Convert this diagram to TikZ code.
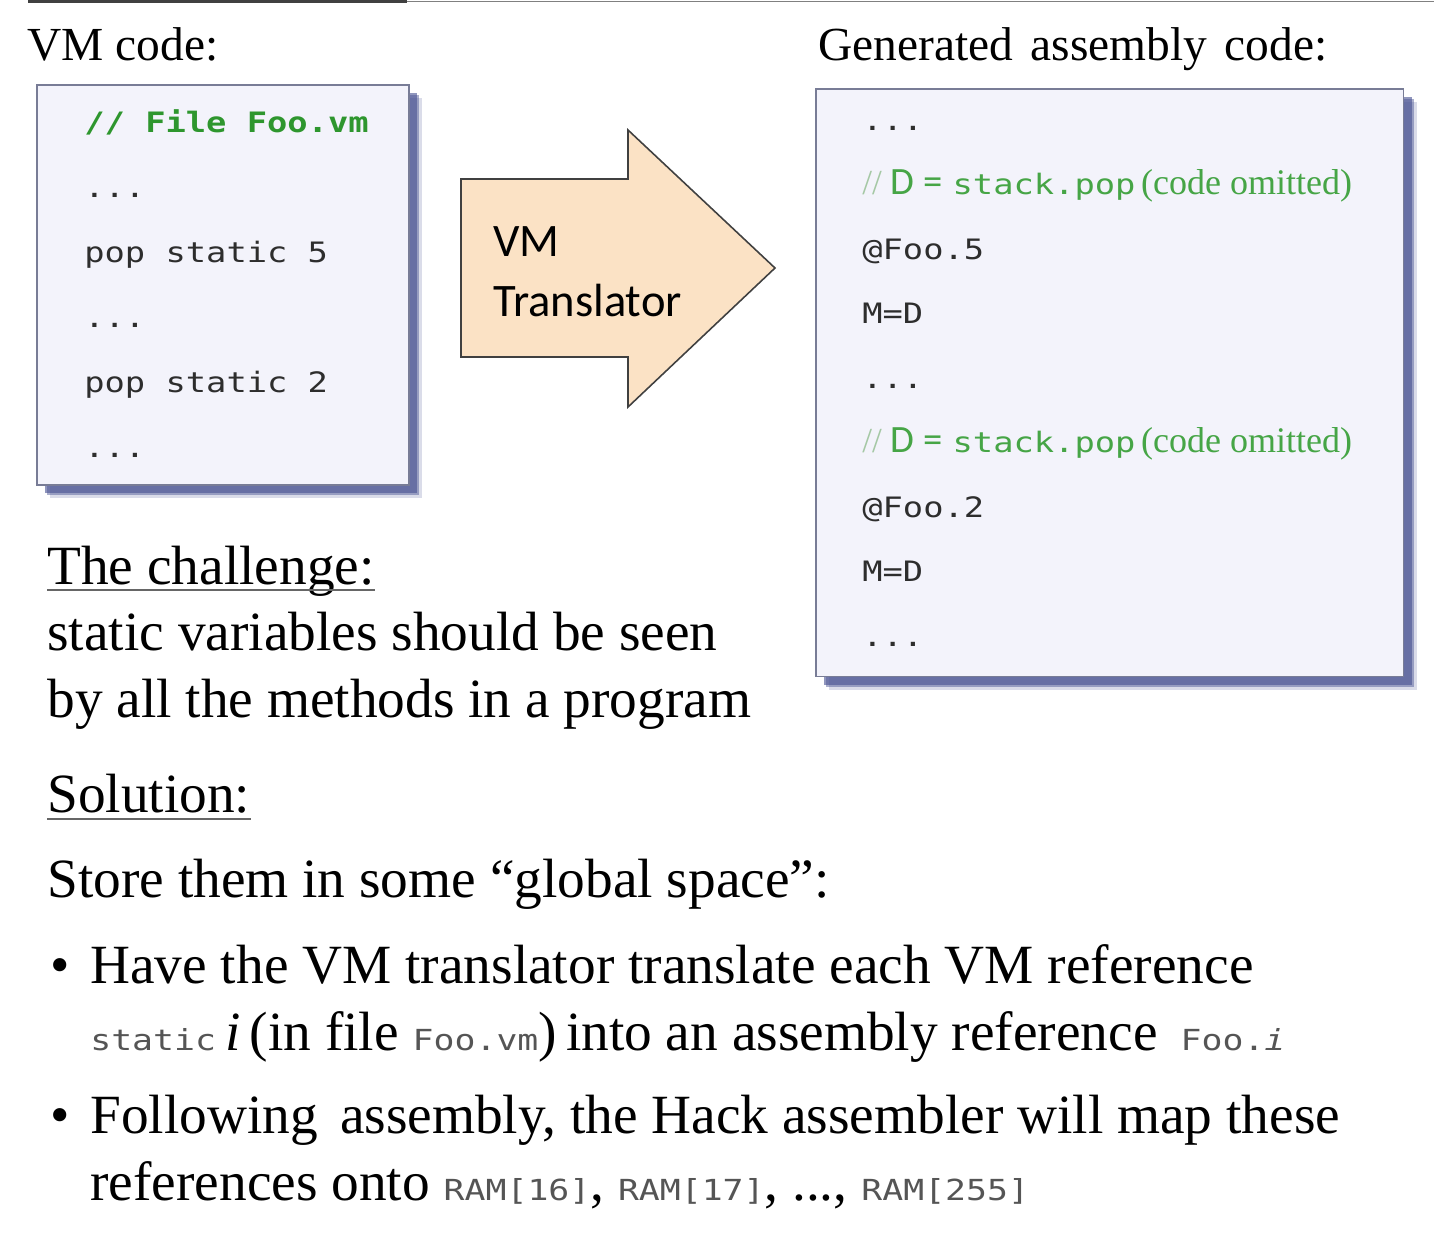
\documentclass[tikz,border=0pt]{standalone}
\usepackage{fontspec}
\setmainfont{Liberation Serif}
\setsansfont{Carlito}
\setmonofont[FakeStretch=1.2]{DejaVu Sans Mono}
\usetikzlibrary{shadows}

\definecolor{boxfill}{RGB}{243,243,251}
\definecolor{boxline}{RGB}{120,124,150}
\definecolor{boxshadow}{RGB}{70,80,145}
\definecolor{xlatefill}{RGB}{251,226,197}
\definecolor{vmgreen}{RGB}{46,150,46}
\definecolor{asmgreen}{RGB}{70,165,70}
\definecolor{slashgreen}{RGB}{165,200,165}
\definecolor{codegray}{RGB}{45,45,45}
\definecolor{refgray}{RGB}{85,85,85}

\newcommand{\codesize}{\fontsize{16}{19}\selectfont}
\newcommand{\bodysize}{\fontsize{31.5}{36}\selectfont}
\newcommand{\refcode}[1]{{\fontsize{16.5}{19}\selectfont\ttfamily\color{refgray}#1}}

\begin{document}
\begin{tikzpicture}[x=0.02cm, y=-0.02cm,
  codebox/.style={rectangle, draw=boxline, fill=boxfill, line width=0.9pt, anchor=north west,
    drop shadow={shadow xshift=0.26cm, shadow yshift=-0.26cm, fill=boxshadow, opacity=0.2},
    drop shadow={shadow xshift=0.21cm, shadow yshift=-0.21cm, fill=boxshadow, opacity=0.45},
    drop shadow={shadow xshift=0.16cm, shadow yshift=-0.16cm, fill=boxshadow, opacity=0.6}},
  code/.style={anchor=base west, inner sep=0, font=\codesize\ttfamily, text=codegray},
  cmt/.style={code, text=asmgreen},
  head/.style={anchor=base west, inner sep=0, font=\fontsize{27}{32}\selectfont},
  txt/.style={anchor=base west, inner sep=0, font=\bodysize},
  uline/.style={draw=black!60, line width=1.1pt},
  xlate/.style={draw=black!75, fill=xlatefill, line width=0.9pt, line join=miter}]

  \useasboundingbox (0,0) rectangle (1434,1238);

  % title rule
  \draw[line width=1.8pt, black!75] (28,1.5) -- (407,1.5);
  \draw[line width=0.9pt, black!50] (407,1.5) -- (1434,1.5);

  \node [head] (vmhead) at (27,60) {VM code:};
  \node [head] (asmhead) at (818,60) {Generated\hspace{0.12em} assembly\hspace{0.12em} code:};

  % VM code box
  \node [codebox, minimum width=7.44cm, minimum height=8cm] (vmbox) at (36,84) {};
  \node [code, text=vmgreen, font=\codesize\ttfamily\bfseries] (vmcmt) at (84,132) {// File Foo.vm};
  \node [code] (vm1) at (84,197) {...};
  \node [code] (vm2) at (84,262) {pop static 5};
  \node [code] (vm3) at (84,327) {...};
  \node [code] (vm4) at (84,392) {pop static 2};
  \node [code] (vm5) at (84,457) {...};

  % translator arrow
  \draw [xlate] (461,179) -- (628,179) -- (628,130) -- (775,268) -- (628,407)
    -- (628,357) -- (461,357) -- cycle;
  \node [anchor=base west, inner sep=0, font=\sffamily\fontsize{26.5}{30}\selectfont] (vmt1) at (493,256) {VM};
  \node [anchor=base west, inner sep=0, font=\sffamily\fontsize{26.5}{30}\selectfont] (vmt2) at (493,316) {Translator};

  % assembly box
  \node [codebox, minimum width=11.76cm, minimum height=11.76cm] (asmbox) at (815,88) {};
  \node [code] (asm1) at (862,130) {...};
  \node [cmt] (asm2) at (862,194.5) {{\rmfamily\fontsize{20}{24}\selectfont\color{slashgreen}//}\hspace{0.3em}{\sffamily\fontsize{22}{26}\selectfont D\hspace{0.25em}=\hspace{0.25em}}stack.pop\hspace{0.2em}{\rmfamily\fontsize{20.5}{24}\selectfont(code omitted)}};
  \node [code] (asm3) at (862,259) {@Foo.5};
  \node [code] (asm4) at (862,323.5) {M=D};
  \node [code] (asm5) at (862,388) {...};
  \node [cmt] (asm6) at (862,452.5) {{\rmfamily\fontsize{20}{24}\selectfont\color{slashgreen}//}\hspace{0.3em}{\sffamily\fontsize{22}{26}\selectfont D\hspace{0.25em}=\hspace{0.25em}}stack.pop\hspace{0.2em}{\rmfamily\fontsize{20.5}{24}\selectfont(code omitted)}};
  \node [code] (asm7) at (862,517) {@Foo.2};
  \node [code] (asm8) at (862,581.5) {M=D};
  \node [code] (asm9) at (862,646) {...};

  % challenge / solution text
  \node [txt] (chal) at (47,584) {The challenge:};
  \draw [uline] ([yshift=-3.6pt]chal.base west) -- ([yshift=-3.6pt]chal.base east);
  \node [txt] (chal1) at (47,650) {static variables should be seen};
  \node [txt] (chal2) at (47,717) {by all the methods in a program};
  \node [txt] (sol) at (47,812) {Solution:};
  \draw [uline] ([yshift=-4pt]sol.base west) -- ([yshift=-4pt]sol.base east);
  \node [txt] (sol1) at (47,897) {Store them in some “global space”:};

  \node [txt] (dot1) at (50,983) {•};
  \node [txt] (bul1a) at (90,983) {Have the VM translator translate each VM reference};
  \node [txt] (bul1b) at (90,1050) {\refcode{static}\,\textit{i}\,(in file \refcode{Foo.vm})\,into an assembly reference\, \refcode{Foo.\textit{i}}};
  \node [txt] (dot2) at (50,1133) {•};
  \node [txt] (bul2a) at (90,1133) {Following\hspace{0.15em} assembly, the Hack assembler will map these};
  \node [txt] (bul2b) at (90,1200) {references onto \refcode{RAM[16]}, \refcode{RAM[17]}, ..., \refcode{RAM[255]}};
\end{tikzpicture}
\end{document}
